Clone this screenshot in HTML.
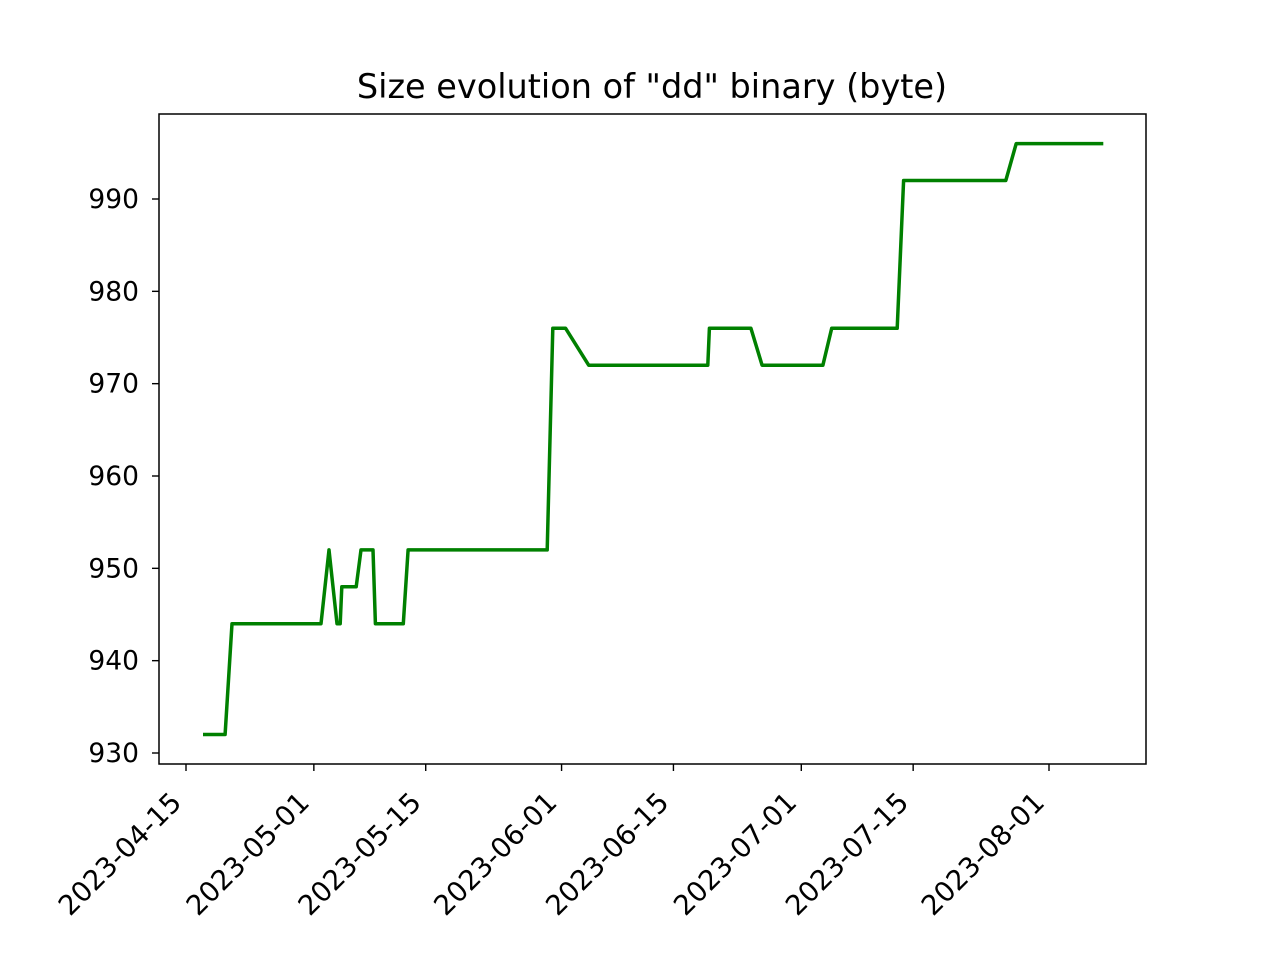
<!DOCTYPE html>
<html><head><meta charset="utf-8"><style>
html,body{margin:0;padding:0;background:#fff;}
svg{display:block;font-family:"DejaVu Sans","Liberation Sans",sans-serif;}
</style></head><body>
<svg id="chart" width="1273" height="955" viewBox="0 0 1273 955">
<rect width="1273" height="955" fill="#fff"/>
<text x="652" y="98" font-size="33.5" text-anchor="middle">Size evolution of "dd" binary (byte)</text>
<g id="yaxis"></g>
<g id="xaxis"></g>
<path id="line" fill="none" stroke="#008000" stroke-width="3.5" stroke-linejoin="round"/>
<rect x="159" y="114" width="987" height="650" fill="none" stroke="#000" stroke-width="1.5"/>
</svg>
<script>
// days since 2023-04-15
const days = [2.13,4.89,5.76,16.9,17.9,18.9,19.3,19.5,21.3,21.9,23.4,23.7,27.2,27.8,45.2,45.9,47.5,50.4,65.3,65.5,70.7,72.1,79.7,80.8,89.0,89.8,102.6,103.9,114.8];
const sizes = [932,932,944,944,952,944,944,948,948,952,952,944,944,952,952,976,976,972,972,976,976,972,972,976,976,992,992,996,996];
const yTicks = [930,940,950,960,970,980,990];
const xTickDays = [0,16,30,47,61,77,91,108];
const xTickLabels = ["2023-04-15","2023-05-01","2023-05-15","2023-06-01","2023-06-15","2023-07-01","2023-07-15","2023-08-01"];

const X = d => 186 + d*(1049-186)/108;
const Y = v => 753 - (v-930)*(753-199)/60;
const NS = "http://www.w3.org/2000/svg";
const ya = document.getElementById('yaxis'), xa = document.getElementById('xaxis');
yTicks.forEach(v=>{
  const l=document.createElementNS(NS,'line');
  l.setAttribute('x1',152);l.setAttribute('x2',159);l.setAttribute('y1',Y(v));l.setAttribute('y2',Y(v));l.setAttribute('stroke','#000');l.setAttribute('stroke-width','1.4');
  
  
  ya.appendChild(l);
  const t=document.createElementNS(NS,'text');
  t.setAttribute('x',139);t.setAttribute('y',Y(v)+9);t.setAttribute('font-size','26.5');t.setAttribute('text-anchor','end');t.textContent=v;
  
  
  ya.appendChild(t);
});
xTickDays.forEach((d,i)=>{
  const x=X(d);
  const l=document.createElementNS(NS,'line');
  l.setAttribute('x1',x);l.setAttribute('x2',x);l.setAttribute('y1',764);l.setAttribute('y2',771);l.setAttribute('stroke','#000');l.setAttribute('stroke-width','1.4');
  
  
  xa.appendChild(l);
  const t=document.createElementNS(NS,'text');
  t.setAttribute('font-size','27.5');t.setAttribute('text-anchor','end');
  t.setAttribute('transform',`translate(${x-3},${804}) rotate(-45)`);
  t.textContent=xTickLabels[i];
  
  
  xa.appendChild(t);
});
document.getElementById('line').setAttribute('d', days.map((d,i)=>(i?'L':'M')+X(d).toFixed(1)+','+Y(sizes[i]).toFixed(1)).join(' '));
</script>
</body></html>
